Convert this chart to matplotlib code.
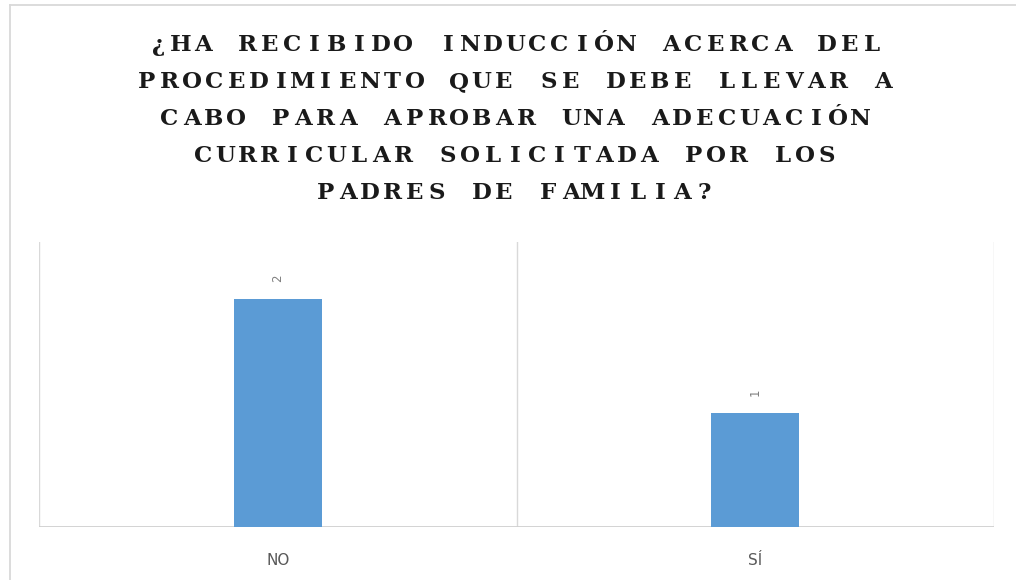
import matplotlib
matplotlib.use("Agg")
import matplotlib.pyplot as plt

categories = ["NO", "SÍ"]
values = [2, 1]
title_lines = [
    "¿HA RECIBIDO INDUCCIÓN ACERCA DEL",
    "PROCEDIMIENTO QUE SE DEBE LLEVAR A",
    "CABO PARA APROBAR UNA ADECUACIÓN",
    "CURRICULAR SOLICITADA POR LOS",
    "PADRES DE FAMILIA?",
]

W, H = 1016, 580
fig = plt.figure(figsize=(W / 100, H / 100), dpi=100)
fig.patch.set_facecolor("white")

# outer chart border (left and top visible)
grid_c = "#D9D9D9"
fig.add_artist(plt.Line2D([10 / W, 10 / W], [0, 1 - 5 / H], color=grid_c, lw=1.3))
fig.add_artist(plt.Line2D([10 / W, 1], [1 - 5 / H, 1 - 5 / H], color=grid_c, lw=1.3))

left, right, top, bottom = 39, 994, 242, 527
ax = fig.add_axes([left / W, 1 - bottom / H, (right - left) / W, (bottom - top) / H])
x = list(range(len(categories)))
bars = ax.bar(x, values, width=0.184, color="#5B9BD5", zorder=3)
ax.set_xlim(-0.5, len(categories) - 0.5)
ax.set_ylim(0, 2.5)
for b in [i - 0.5 for i in range(len(categories) + 1)]:
    ax.axvline(b, color=grid_c, lw=1.0, zorder=1)
for s in ax.spines.values():
    s.set_visible(False)
ax.axhline(0, color="#D0D0D0", lw=1.3, zorder=2)
ax.set_yticks([])
ax.set_xticks(x)
ax.set_xticklabels(categories, fontsize=11, color="#595959", family="DejaVu Sans")
ax.tick_params(axis="x", length=0, pad=19)
ax.bar_label(bars, labels=[str(v) for v in values], rotation=90, padding=12,
             fontsize=8.5, color="#7F7F7F")

# title with wide letter spacing (typewriter style)
pitch = 22.3
cx = 515
y0, dy = 45, 37
for li, line in enumerate(title_lines):
    n = len(line)
    yy = y0 + li * dy
    for i, ch in enumerate(line):
        if ch == " ":
            continue
        xx = cx + (i - (n - 1) / 2) * pitch
        fig.text(xx / W, 1 - yy / H, ch, ha="center", va="center",
                 fontsize=16.5, family="DejaVu Serif", weight="bold",
                 color="#1A1A1A")

fig.savefig("out.png", dpi=100)
